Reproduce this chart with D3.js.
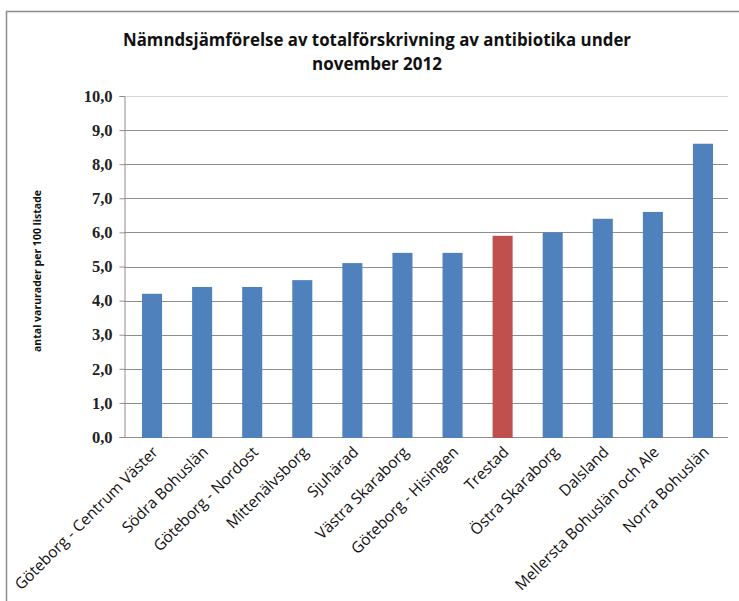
<!DOCTYPE html>
<html>
<head>
<meta charset="utf-8">
<script src="https://cdn.jsdelivr.net/npm/d3@7"></script>
<style>
  body { margin: 0; background: #fff; }
</style>
</head>
<body>
<script>
var categories = ["Göteborg - Centrum Väster", "Södra Bohuslän", "Göteborg - Nordost", "Mittenälvsborg",
    "Sjuhärad", "Västra Skaraborg", "Göteborg - Hisingen", "Trestad", "Östra Skaraborg",
    "Dalsland", "Mellersta Bohuslän och Ale", "Norra Bohuslän"];
var values = [4.2, 4.4, 4.4, 4.6, 5.1, 5.4, 5.4, 5.9, 6.0, 6.4, 6.6, 8.6];
var highlight = "Trestad";
var yTicks = [0, 1, 2, 3, 4, 5, 6, 7, 8, 9, 10];

var width = 739, height = 601;
var margin = {left: 127, right: 11, top: 96, bottom: 164};

var svg = d3.select("body").append("svg")
    .attr("width", width)
    .attr("height", height);

// outer chart frame
svg.append("rect")
    .attr("x", 6.5).attr("y", 11.5)
    .attr("width", 760).attr("height", 640)
    .attr("fill", "none")
    .attr("stroke", "#8c8c8c")
    .attr("stroke-width", 1.5);

var x = d3.scaleBand()
    .domain(categories)
    .range([margin.left, width - margin.right])
    .paddingInner(0.6)
    .paddingOuter(0.3);

var y = d3.scaleLinear()
    .domain([0, 10])
    .range([height - margin.bottom, margin.top]);

// gridlines
svg.append("g").selectAll("line")
    .data(yTicks)
    .enter().append("line")
    .attr("x1", margin.left - 3)
    .attr("x2", width - margin.right)
    .attr("y1", d => Math.round(y(d)) + 0.5)
    .attr("y2", d => Math.round(y(d)) + 0.5)
    .attr("stroke", d => d == 10 ? "#d4d4d4" : "#8e8e8e")
    .attr("stroke-width", 1);

// y axis
var yAxis = svg.append("g")
    .attr("transform", "translate(" + (margin.left - 2.5) + ",0)")
    .call(d3.axisLeft(y).tickValues(yTicks).tickSize(5).tickPadding(7)
        .tickFormat(d => d3.format(".1f")(d).replace(".", ",")));
yAxis.select(".domain").attr("stroke", "#8e8e8e");
yAxis.selectAll(".tick line").attr("stroke", "#8e8e8e");
yAxis.selectAll("text")
    .attr("fill", "#222")
    .style("font-family", "'Liberation Serif', serif")
    .style("font-weight", "bold")
    .style("font-size", "16.5px");

// bars
svg.append("g").selectAll("rect")
    .data(values)
    .enter().append("rect")
    .attr("x", (d, i) => x(categories[i]))
    .attr("width", x.bandwidth())
    .attr("y", d => y(d))
    .attr("height", d => y(0) - y(d) + 1)
    .attr("fill", (d, i) => categories[i] == highlight ? "#c0504d" : "#4f81bd");

// x labels
svg.append("g").selectAll("text")
    .data(categories)
    .enter().append("text")
    .attr("transform", d => "translate(" + (x(d) + x.bandwidth() / 2 + 7) + "," + (y(0) + 16) + ") rotate(-45)")
    .attr("text-anchor", "end")
    .attr("fill", "#111")
    .style("font-family", "'Open Sans', sans-serif")
    .style("font-size", "15.5px")
    .text(d => d);

// y axis title
svg.append("text")
    .attr("transform", "translate(41,271) rotate(-90)")
    .attr("text-anchor", "middle")
    .style("font-family", "'Open Sans', sans-serif")
    .style("font-size", "10.5px")
    .style("font-weight", "bold")
    .attr("fill", "#111")
    .text("antal varurader per 100 listade");

// title
var title = svg.append("text")
    .attr("text-anchor", "middle")
    .style("font-family", "'Open Sans', sans-serif")
    .style("font-size", "17px")
    .style("font-weight", "bold")
    .attr("fill", "#111");
title.append("tspan").attr("x", 377).attr("y", 46)
    .attr("textLength", 508).attr("lengthAdjust", "spacingAndGlyphs")
    .text("Nämndsjämförelse av totalförskrivning av antibiotika under");
title.append("tspan").attr("x", 377).attr("y", 70)
    .text("november 2012");
</script>
</body>
</html>
